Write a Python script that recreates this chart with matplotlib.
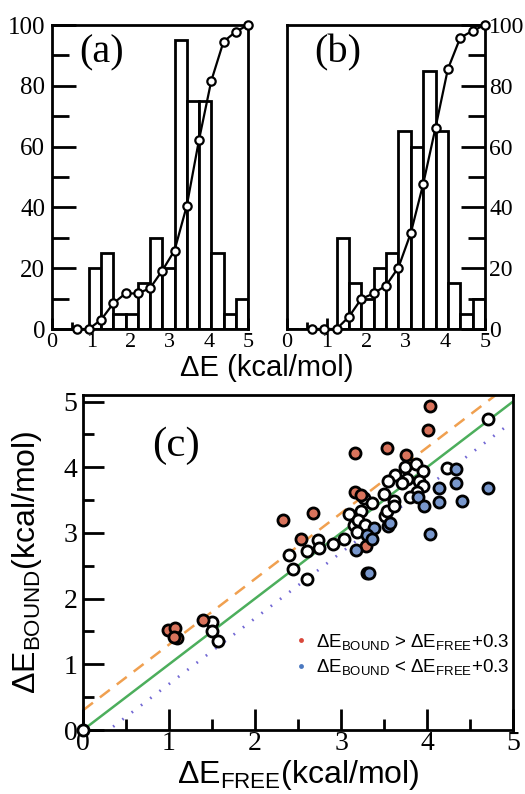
import numpy as np
import matplotlib
matplotlib.use("Agg")
import matplotlib.pyplot as plt
from matplotlib.ticker import MultipleLocator

plt.rcParams['mathtext.fontset'] = 'custom'
plt.rcParams['mathtext.rm'] = 'Liberation Sans'
plt.rcParams['mathtext.it'] = 'Liberation Sans:italic'

SERIF = 'Liberation Serif'
SANS = 'Liberation Sans'

# ---- histogram data (16 bins over 0..5 kcal/mol) ----
bin_edges = np.linspace(0, 5, 17)
hist_a = [0, 0, 0, 20, 25, 5, 5, 15, 30, 20, 95, 75, 75, 25, 5, 10]
hist_b = [0, 0, 0, 0, 30, 15, 10, 20, 25, 65, 60, 85, 65, 15, 5, 10]

# cumulative distributions (percent) at bin edges
cum_x = [0.625, 0.9375, 1.25, 1.5625, 1.875, 2.1875, 2.5, 2.8125, 3.125,
         3.4375, 3.75, 4.0625, 4.375, 4.6875, 5.0]
cum_a = [0, 0, 3, 8.4, 11.7, 11.7, 13.4, 19.2, 25.8, 40.5, 62.2, 81.6,
         94.5, 97.8, 100]
cum_b = [0, 0, 0, 4, 9.9, 11.7, 14.3, 20.2, 31.5, 47.6, 66.2, 85.5,
         95.8, 98.1, 100]

# ---- scatter data (kcal/mol) ----
red_free = [0.99, 1.07, 1.09, 1.06, 1.40, 2.32, 2.68, 2.54, 3.16, 3.16,
            3.23, 3.29, 3.53, 3.75, 4.01, 4.03]
red_bound = [1.52, 1.55, 1.40, 1.42, 1.68, 3.20, 3.30, 2.91, 4.21, 3.62,
             3.58, 2.80, 4.29, 4.18, 4.56, 4.94]

blue_free = [3.38, 3.30, 3.36, 3.17, 3.30, 3.33, 3.90, 3.96, 3.55, 3.57,
             4.03, 4.34, 4.34, 4.14, 4.14, 4.41, 4.71]
blue_bound = [3.07, 2.97, 2.91, 2.74, 2.39, 2.39, 3.54, 3.41, 3.10, 3.15,
              2.99, 3.97, 3.76, 3.69, 3.47, 3.48, 3.69]

white_free = [0.0, 1.50, 1.50, 1.57, 2.40, 2.44, 2.61, 2.61, 2.73, 2.74,
              2.91, 3.04, 3.09, 3.27, 3.23, 3.36, 3.15, 3.20, 3.28, 3.19,
              3.74, 3.87, 3.95, 3.63, 3.55, 3.77, 3.71, 3.91, 3.95, 3.88,
              3.50, 3.80, 3.62, 3.51, 3.53, 3.62, 4.23, 4.71]
white_bound = [0.0, 1.65, 1.50, 1.35, 2.66, 2.45, 2.30, 2.72, 2.89, 2.77,
               2.83, 2.91, 3.29, 3.53, 3.33, 3.45, 3.12, 3.19, 3.12, 3.02,
               4.01, 4.05, 3.95, 3.88, 3.79, 3.82, 3.76, 3.79, 3.72, 3.63,
               3.59, 3.54, 3.48, 3.26, 3.33, 3.41, 3.99, 4.74]

offset = 0.3
line_x = [0, 5]

fig = plt.figure(figsize=(5.25, 7.94), dpi=100)
ax_a = fig.add_axes([52/525, 1 - 329/794, 196/525, 304/794])
ax_b = fig.add_axes([287/525, 1 - 329/794, 198/525, 304/794])
ax_c = fig.add_axes([83/525, 1 - 730/794, 430/525, 335/794])


def draw_hist(ax, heights, cum, label, right):
    widths = np.diff(bin_edges)
    ax.bar(bin_edges[:-1], heights, width=widths, align='edge',
           facecolor='white', edgecolor='black', linewidth=2.0, zorder=2)
    ax.plot(cum_x, cum, color='black', lw=1.6, marker='o', ms=6,
            mfc='white', mec='black', mew=1.6, zorder=4, clip_on=False)
    ax.set_xlim(0, 5)
    ax.set_ylim(0, 100)
    ax.xaxis.set_major_locator(MultipleLocator(1))
    ax.xaxis.set_minor_locator(MultipleLocator(0.5))
    ax.yaxis.set_major_locator(MultipleLocator(20))
    ax.yaxis.set_minor_locator(MultipleLocator(10))
    ax.tick_params(axis='both', which='both', direction='in',
                   top=False, width=2.0)
    ax.tick_params(axis='x', labelsize=16, pad=3)
    ax.tick_params(axis='y', which='major', length=17)
    ax.tick_params(axis='y', which='minor', length=12)
    ax.tick_params(axis='x', which='major', length=8)
    ax.tick_params(axis='x', which='minor', length=5)
    if right:
        ax.yaxis.tick_right()
        ax.tick_params(axis='y', which='both', left=False, right=True,
                       labelleft=False, labelright=True, labelsize=17,
                       pad=3)
    else:
        ax.tick_params(axis='y', which='both', right=False, labelsize=18,
                       pad=5)
    for lab in ax.get_xticklabels() + ax.get_yticklabels():
        lab.set_fontfamily(SERIF)
    for sp in ax.spines.values():
        sp.set_linewidth(2.0)
    ax.text(0.14, 0.97, label, transform=ax.transAxes, fontsize=29,
            family=SERIF, va='top', ha='left')


draw_hist(ax_a, hist_a, cum_a, '(a)', right=False)
draw_hist(ax_b, hist_b, cum_b, '(b)', right=True)

fig.text(0.508, 1 - 368/794, 'ΔE (kcal/mol)', ha='center', va='center',
         fontsize=21, family=SANS)

# ---- panel (c) ----
ax_c.plot(line_x, [v + offset for v in line_x], color='#f0a050', lw=1.8,
          ls=(0, (5, 3.5)), zorder=1)
ax_c.plot(line_x, line_x, color='#4cae5c', lw=1.8, zorder=1)
ax_c.plot([offset + 0.05, 4.95], [0.05, 4.95 - offset], color='#7268d4',
          lw=2.0, ls=(0, (0.6, 3.6)), zorder=1)

ms = 8
mew = 2.0
ax_c.plot(white_free, white_bound, ls='none', marker='o', ms=ms,
          mfc='white', mec='black', mew=mew, zorder=3, clip_on=False)
ax_c.plot(red_free, red_bound, ls='none', marker='o', ms=ms,
          mfc='#d9735c', mec='black', mew=mew, zorder=3)
ax_c.plot(blue_free, blue_bound, ls='none', marker='o', ms=ms,
          mfc='#7897cc', mec='black', mew=mew, zorder=3)

# legend entries drawn as small coloured dots
h_red, = ax_c.plot([], [], ls='none', marker='o', ms=3.5, mfc='#d9473a',
                   mec='none')
h_blue, = ax_c.plot([], [], ls='none', marker='o', ms=3.5, mfc='#4a78c0',
                    mec='none')
leg = ax_c.legend([h_red, h_blue],
                  ['ΔE$_{\\mathrm{BOUND}}$ > ΔE$_{\\mathrm{FREE}}$+0.3',
                   'ΔE$_{\\mathrm{BOUND}}$ < ΔE$_{\\mathrm{FREE}}$+0.3'],
                  loc='center left', bbox_to_anchor=(0.455, 0.225),
                  frameon=False, handlelength=0.6, handletextpad=0.5,
                  labelspacing=0.3, prop={'family': SANS, 'size': 13.5})

ax_c.set_xlim(0, 5)
ax_c.set_ylim(0, 5.1)
ax_c.xaxis.set_major_locator(MultipleLocator(1))
ax_c.xaxis.set_minor_locator(MultipleLocator(0.5))
ax_c.yaxis.set_major_locator(MultipleLocator(1))
ax_c.yaxis.set_minor_locator(MultipleLocator(0.5))
ax_c.tick_params(axis='both', which='both', direction='in', top=False,
                 right=False, labelsize=20, width=2.0)
ax_c.tick_params(axis='x', which='both', pad=1)
ax_c.tick_params(axis='y', which='both', pad=4)
ax_c.tick_params(axis='both', which='major', length=15)
ax_c.tick_params(axis='both', which='minor', length=8)
for lab in ax_c.get_xticklabels() + ax_c.get_yticklabels():
    lab.set_fontfamily(SERIF)
for sp in ax_c.spines.values():
    sp.set_linewidth(2.0)

ax_c.set_xlabel('ΔE$_{\\mathrm{FREE}}$(kcal/mol)', fontsize=23, family=SANS,
                va='center')
ax_c.xaxis.set_label_coords(0.5, -0.135)
ax_c.set_ylabel('ΔE$_{\\mathrm{BOUND}}$(kcal/mol)', fontsize=23, family=SANS,
                va='center')
ax_c.yaxis.set_label_coords(-0.13, 0.5)
ax_c.text(0.16, 0.905, '(c)', transform=ax_c.transAxes, fontsize=31,
          family=SERIF, va='top', ha='left')

fig.savefig('out.png', dpi=100, facecolor='white')
